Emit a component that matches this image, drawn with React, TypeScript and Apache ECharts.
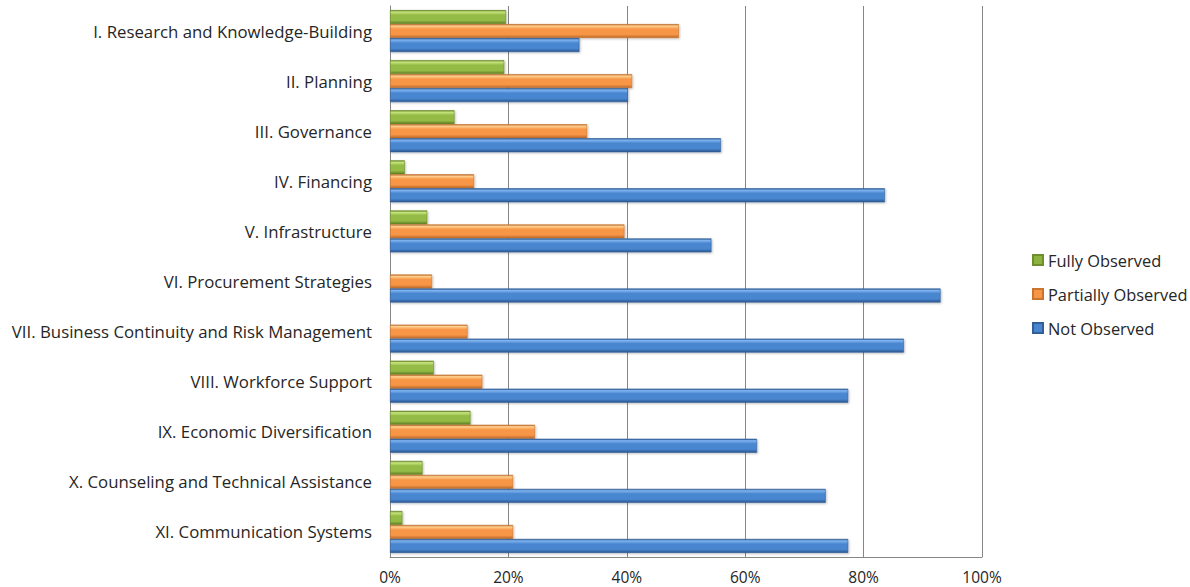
import React, { useEffect, useRef } from "react";
import * as echarts from "echarts";

const categories = [
  "I. Research and Knowledge-Building",
  "II. Planning",
  "III. Governance",
  "IV. Financing",
  "V. Infrastructure",
  "VI. Procurement Strategies",
  "VII. Business Continuity and Risk Management",
  "VIII. Workforce Support",
  "IX. Economic Diversification",
  "X. Counseling and Technical Assistance",
  "XI. Communication Systems",
];

const fullyObserved = [19.6, 19.3, 10.9, 2.5, 6.3, 0, 0, 7.4, 13.6, 5.5, 2.1];
const partiallyObserved = [48.8, 40.9, 33.3, 14.2, 39.6, 7.1, 13.1, 15.6, 24.5, 20.8, 20.8];
const notObserved = [32.0, 40.2, 55.9, 83.6, 54.3, 93.0, 86.8, 77.4, 62.0, 73.6, 77.4];

const xTicks = [0, 20, 40, 60, 80, 100];

const FONT = "Open Sans";

function grad(light: string, mid: string, dark: string) {
  return new echarts.graphic.LinearGradient(0, 0, 0, 1, [
    { offset: 0, color: dark },
    { offset: 0.12, color: light },
    { offset: 0.35, color: mid },
    { offset: 0.75, color: mid },
    { offset: 1, color: dark },
  ]);
}

export default function App() {
  const ref = useRef<HTMLDivElement>(null);
  useEffect(() => {
    if (!ref.current) return;
    const chart = echarts.init(ref.current, undefined, { renderer: "svg" });
    const mk = (name: string, data: number[], light: string, mid: string, dark: string, border: string) => ({
      name,
      type: "bar",
      data,
      barWidth: 14,
      barGap: "0%",
      itemStyle: {
        color: grad(light, mid, dark),
        borderColor: border,
        borderWidth: 0.6,
        shadowColor: "rgba(0,0,0,0.25)",
        shadowBlur: 2,
        shadowOffsetY: 1,
        shadowOffsetX: 1,
      },
    });
    chart.setOption({
      animation: false,
      backgroundColor: "#ffffff",
      grid: { left: 390, right: 208, top: 6, bottom: 30, containLabel: false },
      legend: {
        orient: "vertical",
        left: 1027,
        top: 245,
        itemGap: 14,
        itemWidth: 10,
        itemHeight: 10,
        icon: "rect",
        textStyle: {
          fontFamily: FONT,
          fontSize: 16.4,
          lineHeight: 20,
          color: "#262626",
        },
        data: [
          { name: "Fully Observed", itemStyle: { color: "#8db33f" } },
          { name: "Partially Observed", itemStyle: { color: "#f79646" } },
          { name: "Not Observed", itemStyle: { color: "#4a86d0" } },
        ],
      },
      xAxis: {
        type: "value",
        min: 0,
        max: 100,
        interval: 20,
        axisLine: { show: true, lineStyle: { color: "#868686" } },
        axisTick: { show: false },
        axisLabel: {
          formatter: (v: number) => (xTicks.includes(v) ? v + "%" : ""),
          fontFamily: FONT,
          fontSize: 15.5,
          color: "#262626",
          margin: 12,
        },
        splitLine: { show: true, lineStyle: { color: "#868686", width: 1 } },
      },
      yAxis: {
        type: "category",
        data: categories,
        inverse: true,
        axisLine: { show: true, lineStyle: { color: "#868686" } },
        axisTick: { show: false },
        axisLabel: {
          fontFamily: FONT,
          fontSize: 16.8,
          color: "#262626",
          margin: 18,
        },
      },
      series: [
        mk("Fully Observed", fullyObserved, "#c8e67f", "#94bb45", "#5d7b22", "#6f8f2c"),
        mk("Partially Observed", partiallyObserved, "#ffd08f", "#f79646", "#b9682a", "#c9752f"),
        mk("Not Observed", notObserved, "#7fb4f0", "#4a86d0", "#29568f", "#325f99"),
      ],
    });
    return () => chart.dispose();
  }, []);
  return (
    <div
      ref={ref}
      style={{ position: "fixed", left: 0, top: 0, width: 1190, height: 587, background: "#fff" }}
    />
  );
}
